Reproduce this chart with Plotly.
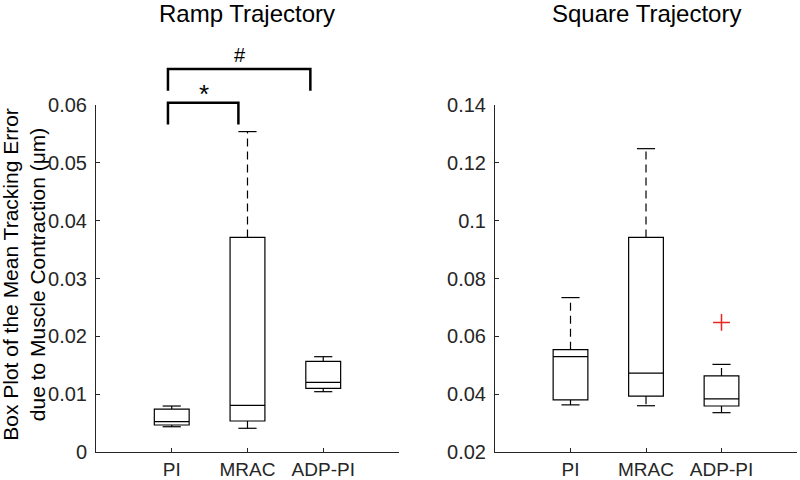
import plotly.graph_objects as go

# ---------------- data ----------------
categories = ["PI", "MRAC", "ADP-PI"]
positions = [1, 2, 3]

# Ramp trajectory (left)
ramp_lower = [0.00437, 0.00410, 0.01043]
ramp_q1 = [0.00467, 0.00536, 0.01100]
ramp_median = [0.00524, 0.00807, 0.01205]
ramp_q3 = [0.00743, 0.03710, 0.01568]
ramp_upper = [0.00795, 0.05540, 0.01648]

# Square trajectory (right)
square_lower = [0.0363, 0.0360, 0.0336]
square_q1 = [0.0380, 0.0393, 0.0359]
square_median = [0.0530, 0.0473, 0.0384]
square_q3 = [0.0554, 0.0942, 0.0463]
square_upper = [0.0734, 0.1249, 0.0503]
square_outlier_x = [3]
square_outlier_y = [0.0648]

ramp_ticks = [0, 0.01, 0.02, 0.03, 0.04, 0.05, 0.06]
ramp_ticktext = ["0", "0.01", "0.02", "0.03", "0.04", "0.05", "0.06"]
square_ticks = [0.02, 0.04, 0.06, 0.08, 0.10, 0.12, 0.14]
square_ticktext = ["0.02", "0.04", "0.06", "0.08", "0.1", "0.12", "0.14"]

FONT = "Liberation Sans, Arial, sans-serif"
INK = "#262626"
BOX_W = 0.46
CAP_HALF = 0.12

fig = go.Figure()


def add_boxplot(xa, ya, lower, q1, med, q3, upper):
    fig.add_trace(go.Box(
        x=positions, q1=q1, median=med, q3=q3,
        lowerfence=q1, upperfence=q3,
        width=BOX_W, whiskerwidth=0, boxpoints=False,
        line=dict(color="black", width=1.2),
        fillcolor="rgba(0,0,0,0)",
        xaxis=xa, yaxis=ya, showlegend=False, hoverinfo="skip",
    ))
    wx, wy, cx, cy = [], [], [], []
    for p, lo, a, b, hi in zip(positions, lower, q1, q3, upper):
        wx += [p, p, None, p, p, None]
        wy += [b, hi, None, a, lo, None]
        cx += [p - CAP_HALF, p + CAP_HALF, None, p - CAP_HALF, p + CAP_HALF, None]
        cy += [hi, hi, None, lo, lo, None]
    fig.add_trace(go.Scatter(
        x=wx, y=wy, mode="lines",
        line=dict(color="black", width=1.2, dash="8px,5px"),
        xaxis=xa, yaxis=ya, showlegend=False, hoverinfo="skip",
    ))
    fig.add_trace(go.Scatter(
        x=cx, y=cy, mode="lines",
        line=dict(color="black", width=1.2),
        xaxis=xa, yaxis=ya, showlegend=False, hoverinfo="skip",
    ))


add_boxplot("x", "y", ramp_lower, ramp_q1, ramp_median, ramp_q3, ramp_upper)
add_boxplot("x2", "y2", square_lower, square_q1, square_median, square_q3, square_upper)

fig.add_trace(go.Scatter(
    x=square_outlier_x, y=square_outlier_y, mode="markers",
    marker=dict(symbol="cross-thin", size=12, line=dict(color="#e8251f", width=1.5)),
    xaxis="x2", yaxis="y2", showlegend=False, hoverinfo="skip",
))

axis_common = dict(
    showline=True, linecolor=INK, linewidth=1, mirror=False,
    ticks="inside", ticklen=4, tickcolor=INK, tickwidth=1,
    showgrid=False, zeroline=False, automargin=False,
    tickfont=dict(family=FONT, size=20, color=INK),
)
xtickfont = dict(family=FONT, size=19, color=INK)

fig.update_layout(
    width=800, height=480,
    margin=dict(l=96, r=3, t=105, b=28),
    paper_bgcolor="white", plot_bgcolor="white",
    xaxis=dict(domain=[0, 0.4322], range=[0, 4], tickvals=positions,
               ticktext=categories, ticklabelstandoff=0,
               **{**axis_common, "tickfont": xtickfont}),
    yaxis=dict(range=[0, 0.06], tickvals=ramp_ticks, ticktext=ramp_ticktext,
               ticklabelstandoff=4, **axis_common),
    xaxis2=dict(domain=[0.5692, 1.0], range=[0, 4], tickvals=positions,
                ticktext=categories, anchor="y2", ticklabelstandoff=0,
                **{**axis_common, "tickfont": xtickfont}),
    yaxis2=dict(range=[0.02, 0.14], tickvals=square_ticks, ticktext=square_ticktext,
                anchor="x2", ticklabelstandoff=4, **axis_common),
    showlegend=False,
)

# significance brackets (left panel)
br = dict(color="black", width=2.5)
fig.add_shape(type="path", xref="x", yref="paper",
              path="M 0.95 0.944 L 0.95 1.0066 L 1.88 1.0066 L 1.88 0.944", line=br)
fig.add_shape(type="path", xref="x", yref="paper",
              path="M 0.95 1.041 L 0.95 1.104 L 2.83 1.104 L 2.83 1.041", line=br)

annots = [
    dict(text="*", x=1.43, y=0.983, xref="x", yref="paper", xanchor="center",
         yanchor="bottom", showarrow=False, font=dict(family=FONT, size=26, color="black")),
    dict(text="#", x=1.895, y=1.144, xref="x", yref="paper", xanchor="center",
         yanchor="middle", showarrow=False, font=dict(family=FONT, size=20, color="black")),
    dict(text="Ramp Trajectory", x=0.2161, y=1.265, xref="paper", yref="paper",
         xanchor="center", yanchor="middle", showarrow=False,
         font=dict(family=FONT, size=24, color="black")),
    dict(text="Square Trajectory", x=0.7846, y=1.265, xref="paper", yref="paper",
         xanchor="center", yanchor="middle", showarrow=False,
         font=dict(family=FONT, size=24, color="black")),
    dict(text="Box Plot of the Mean Tracking Error<br>due to Muscle Contraction (μm)",
         x=-0.103, y=0.513, xref="paper", yref="paper", xanchor="center",
         yanchor="middle", textangle=-90, showarrow=False,
         font=dict(family=FONT, size=21, color="black")),
]
for a in annots:
    fig.add_annotation(**a)

# remove the browser's default 8px body margin so the figure fills the window
fig.write_html("out.html", config={"displayModeBar": False},
               post_script="document.body.style.margin='0';")
